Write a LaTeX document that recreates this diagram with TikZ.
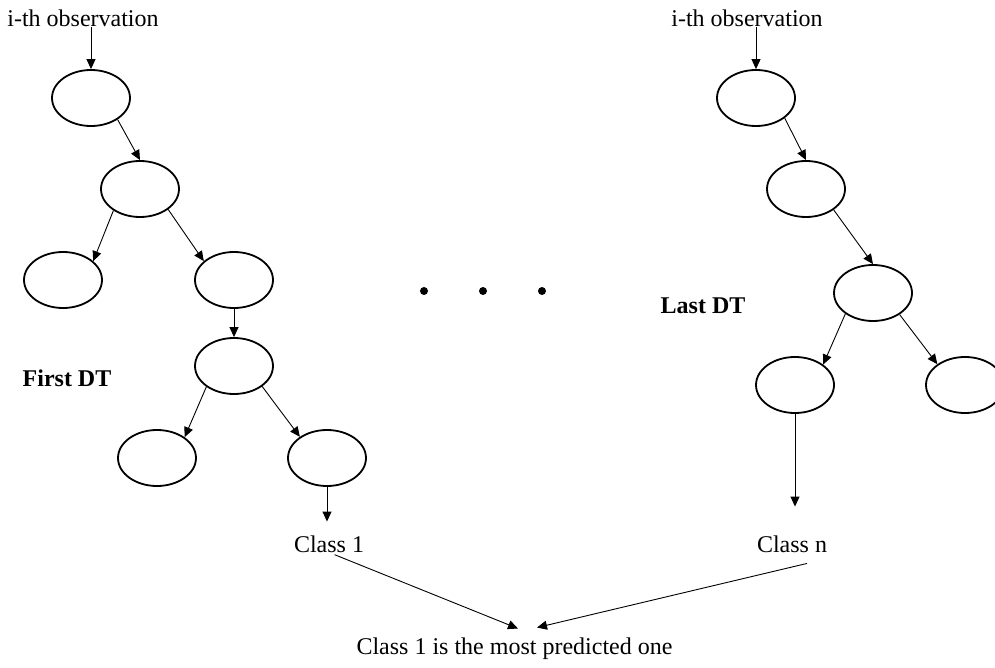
\documentclass[tikz,border=0pt]{standalone}
\usepackage{fontspec}
\setmainfont{Liberation Serif}
\usetikzlibrary{shapes.geometric,arrows.meta,calc}
\begin{document}
\begin{tikzpicture}[x=1pt,y=-1pt,
  leaf/.style={ellipse,draw,line width=1.8pt,minimum width=78pt,minimum height=56pt,inner sep=0pt},
  lbl/.style={font=\fontsize{24}{28}\selectfont,inner sep=0pt,anchor=base},
  bl/.style={inner sep=0pt,anchor=base,font=\fontsize{24}{28}\selectfont\bfseries},
  arr/.style={-{Triangle[length=10pt,width=9pt]},line width=0.9pt},
  dotm/.style={circle,fill,inner sep=0pt,minimum size=8pt}]
\clip (0,0) rectangle (995,668);
% left tree
\node[lbl] (obs1) at (83,27) {i-th observation};
\node[leaf] (e1) at (91,98) {};
\node[leaf] (e2) at (140,189) {};
\node[leaf] (e3) at (63,280) {};
\node[leaf] (e4) at (234,280) {};
\node[leaf] (e5) at (234,366) {};
\node[leaf] (e6) at (157,458) {};
\node[leaf] (e7) at (327,458) {};
\node[bl] (first) at (67,386) {First DT};
\node[lbl] (class1) at (329,552) {Class 1};
% dots
\node[dotm] (d1) at (424,291) {};
\node[dotm] (d2) at (483,291) {};
\node[dotm] (d3) at (542,291) {};
% right tree
\node[lbl] (obs2) at (747,27) {i-th observation};
\node[leaf] (r1) at (756,98) {};
\node[leaf] (r2) at (806,189) {};
\node[leaf] (r3) at (873,293) {};
\node[leaf] (r4) at (795,385) {};
\node[leaf] (r5) at (965,385) {};
\node[bl] (last) at (703,313) {Last DT};
\node[lbl] (classn) at (792,552) {Class n};
% result
\node[lbl] (final) at (514.5,654) {Class 1 is the most predicted one};
\coordinate (inL) at ($(final.north)+(3.5,-8.6)$);
\coordinate (inR) at ($(final.north)+(22.5,-9.6)$);
% left connectors
\draw[arr] (e1.north |- obs1.south) -- (e1.north);
\draw[arr] (e1.-39) -- (e2.north);
\draw[arr] (e2.219) -- (e3.32);
\draw[arr] (e2.-36) -- (e4.148);
\draw[arr] (e4.south) -- (e5.north);
\draw[arr] (e5.217) -- (e6.37);
\draw[arr] (e5.-36) -- (e7.142);
\draw[arr,shorten >=13.6pt] (e7.south) -- (e7.south |- class1.north);
% right connectors
\draw[arr] (r1.north |- obs2.south) -- (r1.north);
\draw[arr] (r1.-35) -- (r2.north);
\draw[arr] (r2.-37) -- (r3.north);
\draw[arr] (r3.217) -- (r4.36);
\draw[arr] (r3.-39) -- (r5.143);
\draw[arr,shorten >=28.6pt] (r4.south) -- (r4.south |- classn.north);
% to result
\draw[arr,shorten <=6pt] (class1.south) -- (inL);
\draw[arr] ($(classn.south)+(15,11)$) -- (inR);
\end{tikzpicture}
\end{document}
